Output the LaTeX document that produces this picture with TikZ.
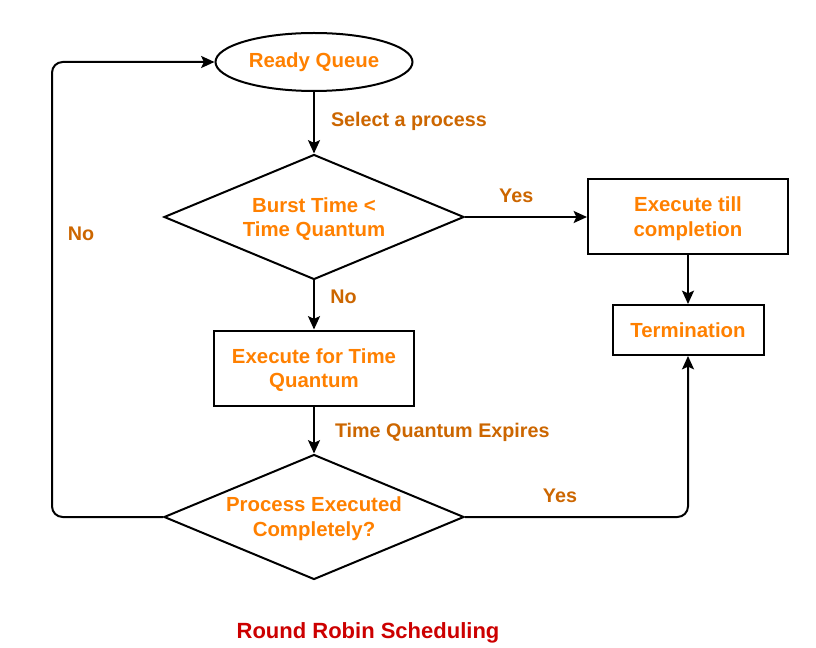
\documentclass[tikz,border=0pt]{standalone}
\usepackage{fontspec}
\setmainfont{Liberation Sans}
\usetikzlibrary{shapes.geometric,arrows.meta}
\definecolor{nodetxt}{HTML}{FF8000}
\definecolor{edgetxt}{HTML}{CC6600}
\definecolor{titletxt}{HTML}{CC0000}
\begin{document}
\begin{tikzpicture}[x=0.75pt,y=-0.75pt,
  line width=1.5pt,
  ntext/.style={text=nodetxt,font=\fontsize{15.3}{18.5}\selectfont\bfseries,align=center,inner sep=0pt},
  etext/.style={text=edgetxt,font=\fontsize{14.8}{18}\selectfont\bfseries},
  boxn/.style={draw=black,line width=1.5pt,rectangle,inner sep=0pt},
  decn/.style={draw=black,diamond,minimum width=300*0.75pt,minimum height=125*0.75pt,inner sep=0pt},
  arr/.style={-{Stealth[length=10pt,width=9pt,inset=2pt]},line width=1.5pt}]
\useasboundingbox (0,0) rectangle (816,648);
\node[ntext,draw=black,ellipse,minimum width=197*0.75pt,minimum height=58*0.75pt] (rq) at (314,62) {Ready Queue};
\node[decn] (d1) at (314,217) {};
\node[ntext] (d1t) at (314,219) {Burst Time <\\Time Quantum};
\node[boxn,minimum width=200*0.75pt,minimum height=75*0.75pt] (etc) at (688,217) {};
\node[ntext] (etct) at (688,219) {Execute till\\completion};
\node[boxn,ntext,minimum width=151*0.75pt,minimum height=50*0.75pt] (term) at (688,330) {Termination};
\node[boxn,minimum width=200*0.75pt,minimum height=75*0.75pt] (etq) at (314,368) {};
\node[ntext] (etqt) at (314,370) {Execute for Time\\Quantum};
\node[decn] (d2) at (314,517) {};
\node[ntext] (d2t) at (314,519) {Process Executed\\Completely?};
\coordinate (cr) at (688,517);
\coordinate (cl) at (52,517);
\coordinate (tl) at (52,62);
\draw[arr] (rq.south) -- (d1.north) node[pos=0.47,right=12pt,etext,inner sep=0pt] (l1) {Select a process};
\draw[arr] (d1.east) -- (etc.west) node[pos=0.42,above=10pt,etext,inner sep=0pt] (l2) {Yes};
\draw[arr] (etc.south) -- (term.north);
\draw[arr] (d1.south) -- (etq.north) node[pos=0.33,right=11.5pt,etext,inner sep=0pt] (l3) {No};
\draw[arr] (etq.south) -- (d2.north) node[pos=0.55,right=15pt,etext,inner sep=0pt] (l4) {Time Quantum Expires};
\draw[arr,rounded corners=8pt] (d2.east) -- (cr) -- (term.south);
\node[etext] (l5) at (560,496) {Yes};
\draw[arr,rounded corners=8pt] (d2.west) -- (cl) -- (tl) -- (rq.west);
\node[etext] (l6) at (81,234) {No};
\node[text=titletxt,font=\fontsize{16.5}{20}\selectfont\bfseries] (title) at (368,633) {Round Robin Scheduling};
\end{tikzpicture}
\end{document}
